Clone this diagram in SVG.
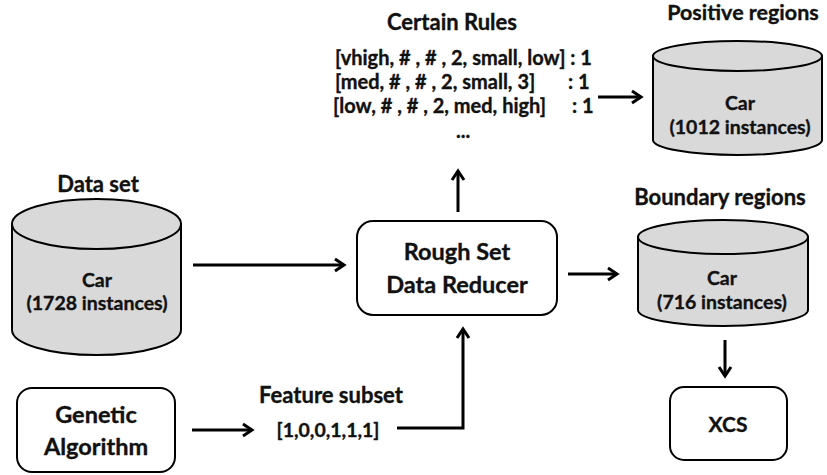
<svg xmlns="http://www.w3.org/2000/svg" width="827" height="475" viewBox="0 0 827 475">
<defs>
<style>
text{font-family:Lato,"Open Sans","Liberation Sans",sans-serif;font-weight:700;fill:#111;text-anchor:middle;stroke:#111;stroke-width:0.35px}
.cyl{fill:#d9d9d9;stroke:#000;stroke-width:2}
.box{fill:#fff;stroke:#000;stroke-width:2}
.lbl{font-size:22px}
.in{font-size:19.5px}
.big{font-size:23.5px}
.xcs{font-size:21px}
.rule{font-size:20px;text-anchor:start}
.conn{fill:none;stroke:#000;stroke-width:3}
</style>
<marker id="ah" markerWidth="16" markerHeight="16" refX="12" refY="8" orient="auto" markerUnits="userSpaceOnUse">
<path d="M3,2 L12,8 L3,14" fill="none" stroke="#000" stroke-width="3"/>
</marker>
</defs>
<rect width="827" height="475" fill="#fff"/>

<g id="dataset">
<text class="lbl" x="98" y="192">Data set</text>
<path class="cyl" d="M12,224 L12,330 A84.5,25 0 0 0 181,330 L181,224 Z"/>
<ellipse class="cyl" cx="96.5" cy="224" rx="84.5" ry="25"/>
<text class="in" x="97" y="287">Car</text>
<text class="in" x="97" y="310">(1728 instances)</text>
</g>

<g id="reducer">
<rect class="box" x="357" y="221" width="200" height="94" rx="16"/>
<text class="big" x="457" y="260">Rough Set</text>
<text class="big" x="457" y="293">Data Reducer</text>
</g>

<g id="genetic">
<rect class="box" x="17" y="388" width="158" height="84" rx="15"/>
<text class="big" x="96" y="423">Genetic</text>
<text class="big" x="96" y="455">Algorithm</text>
</g>

<g id="feature">
<text class="lbl" x="331" y="403">Feature subset</text>
<text class="in" x="328" y="437">[1,0,0,1,1,1]</text>
</g>

<g id="rules">
<text class="lbl" x="452" y="30">Certain Rules</text>
<text class="rule" x="335" y="65">[vhigh, # , # , 2, small, low] : 1</text>
<text class="rule" x="335" y="89">[med, # , # , 2, small, 3]</text>
<text class="rule" x="568" y="89">: 1</text>
<text class="rule" x="333" y="113">[low, # , # , 2, med, high]</text>
<text class="rule" x="572" y="113">: 1</text>
<text class="rule" x="463" y="138" style="text-anchor:middle">...</text>
</g>

<g id="positive">
<text class="lbl" x="743" y="20" style="font-size:21.5px">Positive regions</text>
<path class="cyl" d="M653,56 L653,140 A84.5,15 0 0 0 822,140 L822,56 Z"/>
<ellipse class="cyl" cx="737.5" cy="56" rx="84.5" ry="15"/>
<text class="in" x="740" y="110">Car</text>
<text class="in" x="740" y="134">(1012 instances)</text>
</g>

<g id="boundary">
<text class="lbl" x="720" y="205">Boundary regions</text>
<path class="cyl" d="M638,237 L638,310 A85,16 0 0 0 808,310 L808,237 Z"/>
<ellipse class="cyl" cx="723" cy="237" rx="85" ry="17"/>
<text class="in" x="722" y="285">Car</text>
<text class="in" x="722" y="309">(716 instances)</text>
</g>

<g id="xcs">
<rect class="box" x="670" y="387" width="117" height="73" rx="14"/>
<text class="xcs" x="728" y="432">XCS</text>
</g>

<g id="connectors">
<line class="conn" x1="193" y1="265" x2="344" y2="265" marker-end="url(#ah)"/>
<line class="conn" x1="458" y1="212" x2="458" y2="171" marker-end="url(#ah)"/>
<line class="conn" x1="568" y1="274" x2="617" y2="274" marker-end="url(#ah)"/>
<line class="conn" x1="598" y1="97" x2="641" y2="97" marker-end="url(#ah)"/>
<line class="conn" x1="725" y1="340" x2="725" y2="376" marker-end="url(#ah)"/>
<line class="conn" x1="192" y1="430" x2="252" y2="430" marker-end="url(#ah)"/>
<polyline class="conn" points="397,428 463,428 463,329" marker-end="url(#ah)"/>
</g>
</svg>
